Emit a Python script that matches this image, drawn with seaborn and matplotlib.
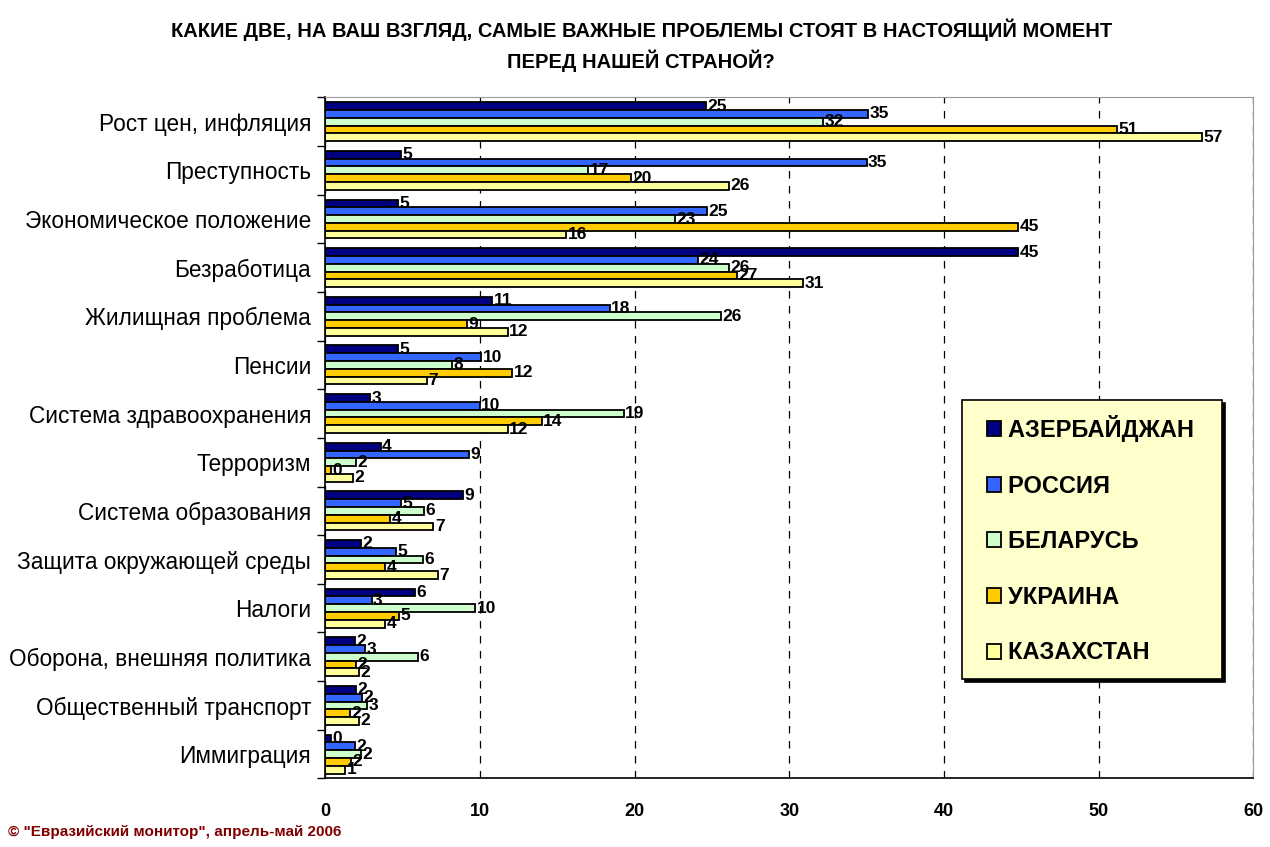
import matplotlib
matplotlib.use("Agg")
import matplotlib.pyplot as plt
from matplotlib.legend_handler import HandlerPatch
from matplotlib.patches import Rectangle
import seaborn as sns
import pandas as pd
import numpy as np

categories = [
    "Рост цен, инфляция",
    "Преступность",
    "Экономическое положение",
    "Безработица",
    "Жилищная проблема",
    "Пенсии",
    "Система здравоохранения",
    "Терроризм",
    "Система образования",
    "Защита окружающей среды",
    "Налоги",
    "Оборона, внешняя политика",
    "Общественный транспорт",
    "Иммиграция",
]

countries = ["АЗЕРБАЙДЖАН", "РОССИЯ", "БЕЛАРУСЬ", "УКРАИНА", "КАЗАХСТАН"]

azerbaijan = [24.6, 4.9, 4.7, 44.8, 10.8, 4.7, 2.9, 3.6, 8.9, 2.3, 5.8, 1.9, 2.0, 0.4]
russia     = [35.1, 35.0, 24.7, 24.1, 18.4, 10.1, 10.0, 9.3, 4.9, 4.6, 3.0, 2.6, 2.4, 1.9]
belarus    = [32.2, 17.0, 22.6, 26.1, 25.6, 8.2, 19.3, 2.0, 6.4, 6.3, 9.7, 6.0, 2.7, 2.3]
ukraine    = [51.2, 19.8, 44.8, 26.6, 9.2, 12.1, 14.0, 0.4, 4.2, 3.9, 4.8, 2.0, 1.6, 1.7]
kazakhstan = [56.7, 26.1, 15.6, 30.9, 11.8, 6.6, 11.8, 1.8, 7.0, 7.3, 3.9, 2.2, 2.2, 1.3]

colors = ["#000080", "#3366FF", "#CCFFCC", "#FFCC00", "#FFFF99"]

series = [azerbaijan, russia, belarus, ukraine, kazakhstan]
rows = []
for country, vals in zip(countries, series):
    for cat, v in zip(categories, vals):
        rows.append({"category": cat, "country": country, "value": v})
df = pd.DataFrame(rows)

sns.set_style("white")
plt.rcParams["font.family"] = ["Liberation Sans", "DejaVu Sans"]
plt.rcParams["text.color"] = "black"
plt.rcParams["xtick.color"] = "black"
plt.rcParams["ytick.color"] = "black"
plt.rcParams["axes.labelcolor"] = "black"

fig = plt.figure(figsize=(12.7, 8.47), dpi=100)
ax = fig.add_axes([0.256, 0.081, 0.731, 0.804])

sns.barplot(data=df, y="category", x="value", hue="country", order=categories,
            hue_order=countries, palette=colors, orient="h", width=0.8,
            edgecolor="black", linewidth=1.3, saturation=1, ax=ax)

for c in ax.containers:
    ax.bar_label(c, fmt="%.0f", padding=1, fontsize=12.5, fontweight="bold")

ax.set_xlim(0, 60)
ax.set_ylim(len(categories) - 0.5, -0.5)
ax.set_xticks(range(0, 61, 10))
ax.set_xticklabels([str(t) for t in range(0, 61, 10)], fontsize=13, fontweight="bold")
ax.tick_params(axis="x", length=4, width=1, color="black", pad=14)
ax.set_yticks(range(len(categories)))
ax.set_yticklabels(categories, fontsize=16.3)
ax.tick_params(axis="y", length=0, pad=10)
ax.set_yticks(np.arange(-0.5, len(categories), 1), minor=True)
ax.tick_params(axis="y", which="minor", length=6, width=1, color="black", left=True)
ax.set_xlabel("")
ax.set_ylabel("")

ax.grid(axis="x", color="black", linestyle=(0, (6, 6)), linewidth=0.9)
ax.set_axisbelow(True)
for s in ["top", "right"]:
    ax.spines[s].set_color("#999999")
for s in ["left", "bottom"]:
    ax.spines[s].set_color("black")
    ax.spines[s].set_linewidth(1.2)

handles, labels = ax.get_legend_handles_labels()
ax.get_legend().remove()
leg = ax.legend(handles, [l + "  " for l in labels], loc="upper left",
                bbox_to_anchor=(0.686, 0.555),
                handler_map={Rectangle: HandlerPatch(xpad=0.45)},
                frameon=True, fancybox=False, shadow={"color": "black", "alpha": 1},
                facecolor="#FFFFCC", edgecolor="black", framealpha=1,
                prop={"size": 17, "weight": "bold"}, labelspacing=1.38,
                handlelength=1.05, handleheight=0.6, handletextpad=0.3,
                borderpad=0.62, borderaxespad=0)
leg.get_frame().set_linewidth(1.2)

fig.text(0.505, 0.965, "КАКИЕ ДВЕ, НА ВАШ ВЗГЛЯД, САМЫЕ ВАЖНЫЕ ПРОБЛЕМЫ СТОЯТ В НАСТОЯЩИЙ МОМЕНТ",
         ha="center", va="center", fontsize=14.5, fontweight="bold")
fig.text(0.505, 0.928, "ПЕРЕД НАШЕЙ СТРАНОЙ?",
         ha="center", va="center", fontsize=14.5, fontweight="bold")
fig.text(0.006, 0.010, "© \"Евразийский монитор\", апрель-май 2006",
         ha="left", va="bottom", fontsize=11, fontweight="bold", color="#800000")

fig.savefig("out.png", dpi=100)
plt.close(fig)
